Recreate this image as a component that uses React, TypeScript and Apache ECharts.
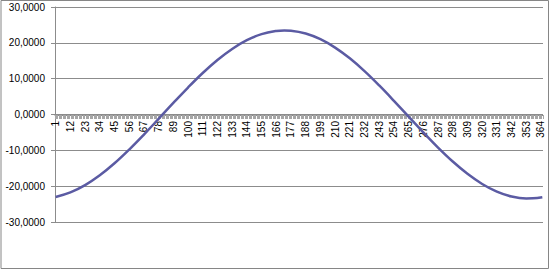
import React, { useEffect, useRef } from "react";
import * as echarts from "echarts";

// Day-of-year categories shown on the axis (1..365)
const dayCategories: string[] = Array.from({ length: 365 }, (_, i) => String(i + 1));

const sampleDays: number[] = [
  1, 12, 23, 34, 45, 56, 67, 78, 89, 100, 111, 122, 133, 144, 155, 166, 172, 177,
  188, 199, 210, 221, 232, 243, 254, 265, 276, 287, 298, 309, 320, 331, 342, 353, 358, 365,
];
const sampleValues: number[] = [
  -23.01, -21.75, -19.71, -16.97, -13.62, -9.78, -5.6, -1.21, 3.22, 7.53, 11.58, 15.21,
  18.3, 20.73, 22.42, 23.31, 23.45, 23.37, 22.59, 21.01, 18.67, 15.67, 12.1, 8.1, 3.82,
  -0.61, -5.01, -9.23, -13.12, -16.54, -19.38, -21.52, -22.89, -23.44, -23.4, -23.09,
];

const yTicks = { min: -30, max: 30, interval: 10 };

const FONT = "Liberation Sans, Arial, sans-serif";
const GRID_GRAY = "#8c8c8c";

export default function App() {
  const ref = useRef<HTMLDivElement>(null);

  useEffect(() => {
    if (!ref.current) return;
    const chart = echarts.init(ref.current, undefined, { renderer: "svg" });
    const pairs = sampleDays.map((d, i) => [d, sampleValues[i]]);
    chart.setOption({
      animation: false,
      backgroundColor: "#ffffff",
      grid: [
        // main plotting grid (-30 .. 30)
        { left: 55, right: 7, top: 7, bottom: 49, containLabel: false },
        // upper half (30 .. 0): its bottom edge is the zero line, holds the category axis
        { left: 55, right: 7, top: 7, bottom: 156, containLabel: false },
      ],
      xAxis: [
        {
          type: "value",
          gridIndex: 0,
          min: 0.5,
          max: 365.5,
          show: false,
        },
        {
          type: "category",
          gridIndex: 1,
          position: "bottom",
          data: dayCategories,
          boundaryGap: true,
          axisLine: { show: true, onZero: false, lineStyle: { color: GRID_GRAY, width: 1 } },
          axisTick: { show: true, interval: 0, length: 4, lineStyle: { color: "#a6a6a6" } },
          axisLabel: {
            interval: 10,
            rotate: 90,
            margin: 6,
            color: "#000",
            fontFamily: FONT,
            fontSize: 10,
          },
          splitLine: { show: false },
        },
      ],
      yAxis: [
        {
          type: "value",
          gridIndex: 0,
          min: yTicks.min,
          max: yTicks.max,
          interval: yTicks.interval,
          axisLine: { show: true, lineStyle: { color: GRID_GRAY, width: 1 } },
          axisTick: { show: true, length: 4, lineStyle: { color: GRID_GRAY } },
          axisLabel: {
            margin: 10,
            color: "#000",
            fontFamily: FONT,
            fontSize: 10,
            formatter: (v: number) => v.toFixed(4).replace(".", ","),
          },
          splitLine: { show: true, lineStyle: { color: GRID_GRAY, width: 1 } },
        },
        {
          type: "value",
          gridIndex: 1,
          min: 0,
          max: 30,
          show: false,
        },
      ],
      series: [
        {
          type: "line",
          xAxisIndex: 0,
          yAxisIndex: 0,
          data: pairs,
          smooth: 0.4,
          showSymbol: false,
          symbol: "none",
          lineStyle: { color: "#5b5ba3", width: 2.5 },
          z: 5,
        },
      ],
      graphic: [
        {
          type: "rect",
          shape: { x: 1, y: 0.5, width: 547.5, height: 268 },
          style: { fill: "none", stroke: "#868686", lineWidth: 1 },
          silent: true,
          z: 100,
        },
      ],
    });
    return () => chart.dispose();
  }, []);

  return (
    <div
      ref={ref}
      style={{ position: "fixed", left: 0, top: 0, width: 550, height: 271 }}
    />
  );
}
